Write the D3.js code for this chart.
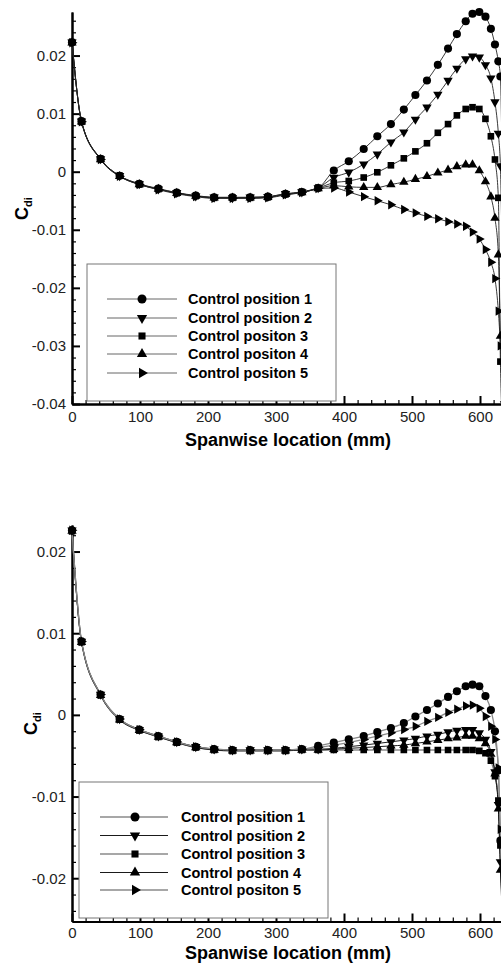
<!DOCTYPE html>
<html>
<head>
<meta charset="utf-8">
<script src="https://cdn.jsdelivr.net/npm/d3@7"></script>
<style>
  html, body { margin: 0; padding: 0; background: #fff; }
  svg { display: block; font-family: "Liberation Sans", Arial, Helvetica, sans-serif; }
</style>
</head>
<body>
<svg id="chart" width="501" height="967"></svg>
<script>
// Spanwise stations (mm), shared by both panels
const span = [0, 14, 42, 70, 99, 127, 154, 182, 209, 236, 262, 288, 314, 338, 362,
  385, 407, 429, 449, 469, 488, 505, 522, 538, 553, 566, 579, 589, 599, 608, 616,
  622, 627, 630, 636, 640];

// Upper panel: induced drag coefficient per control position
const topPos1 = [0.0223, 0.0087, 0.0022, -0.0007, -0.0021, -0.0029, -0.0036, -0.0041, -0.0044, -0.0044, -0.0044, -0.0043, -0.0038, -0.0035, -0.0028,
  0.0002, 0.0018, 0.0039, 0.0061, 0.0082, 0.0107, 0.0132, 0.0157, 0.0184, 0.0212, 0.0237, 0.0259, 0.0272, 0.0275, 0.0267, 0.0246,
  0.0219, 0.0190, 0.0164, -0.0300, -0.0500];
const topPos2 = [0.0223, 0.0087, 0.0022, -0.0007, -0.0021, -0.0030, -0.0036, -0.0042, -0.0044, -0.0045, -0.0044, -0.0043, -0.0038, -0.0035, -0.0028,
  -0.0010, -0.0001, 0.0013, 0.0030, 0.0051, 0.0068, 0.0090, 0.0111, 0.0133, 0.0157, 0.0178, 0.0194, 0.0199, 0.0197, 0.0184, 0.0161,
  0.0120, 0.0066, 0.0010, -0.0400, -0.0600];
const topPos3 = [0.0223, 0.0086, 0.0022, -0.0007, -0.0022, -0.0030, -0.0037, -0.0042, -0.0045, -0.0045, -0.0045, -0.0044, -0.0039, -0.0035, -0.0028,
  -0.0019, -0.0016, -0.0010, -0.0001, 0.0011, 0.0023, 0.0035, 0.0049, 0.0067, 0.0082, 0.0097, 0.0108, 0.0111, 0.0108, 0.0091, 0.0061,
  0.0021, -0.0045, -0.0327, -0.0500, -0.0600];
const topPos4 = [0.0222, 0.0086, 0.0021, -0.0008, -0.0022, -0.0030, -0.0037, -0.0042, -0.0045, -0.0045, -0.0045, -0.0044, -0.0039, -0.0036, -0.0029,
  -0.0024, -0.0026, -0.0027, -0.0027, -0.0022, -0.0018, -0.0013, -0.0008, -0.0002, 0.0003, 0.0009, 0.0012, 0.0012, 0.0002, -0.0017, -0.0043,
  -0.0080, -0.0143, -0.0283, -0.0500, -0.0600];
const topPos5 = [0.0222, 0.0086, 0.0021, -0.0008, -0.0022, -0.0031, -0.0038, -0.0043, -0.0046, -0.0046, -0.0046, -0.0045, -0.0040, -0.0036, -0.0029,
  -0.0028, -0.0035, -0.0043, -0.0050, -0.0057, -0.0065, -0.0071, -0.0077, -0.0081, -0.0086, -0.0090, -0.0094, -0.0104, -0.0116, -0.0134, -0.0156,
  -0.0184, -0.0240, -0.0300, -0.0500, -0.0600];

// Lower panel
const botPos1 = [0.0226, 0.0090, 0.0025, -0.0005, -0.0018, -0.0026, -0.0033, -0.0039, -0.0042, -0.0043, -0.0043, -0.0043, -0.0043, -0.0042, -0.0038,
  -0.0034, -0.0030, -0.0026, -0.0021, -0.0016, -0.0010, -0.0002, 0.0006, 0.0014, 0.0022, 0.0029, 0.0035, 0.0037, 0.0035, 0.0023, 0.0006,
  -0.0020, -0.0068, -0.0154, -0.0300, -0.0400];
const botPos2 = [0.0226, 0.0090, 0.0025, -0.0005, -0.0018, -0.0026, -0.0033, -0.0039, -0.0042, -0.0043, -0.0043, -0.0043, -0.0043, -0.0042, -0.0042,
  -0.0041, -0.0039, -0.0037, -0.0035, -0.0033, -0.0031, -0.0029, -0.0026, -0.0024, -0.0021, -0.0019, -0.0018, -0.0018, -0.0022, -0.0030, -0.0045,
  -0.0070, -0.0110, -0.0180, -0.0300, -0.0400];
const botPos3 = [0.0225, 0.0089, 0.0024, -0.0006, -0.0019, -0.0027, -0.0034, -0.0040, -0.0043, -0.0044, -0.0044, -0.0044, -0.0044, -0.0043, -0.0043,
  -0.0043, -0.0043, -0.0043, -0.0043, -0.0043, -0.0043, -0.0043, -0.0043, -0.0043, -0.0043, -0.0043, -0.0043, -0.0043, -0.0044, -0.0047, -0.0056,
  -0.0075, -0.0105, -0.0160, -0.0300, -0.0400];
const botPos4 = [0.0225, 0.0089, 0.0024, -0.0006, -0.0019, -0.0027, -0.0034, -0.0040, -0.0043, -0.0044, -0.0044, -0.0044, -0.0044, -0.0043, -0.0043,
  -0.0042, -0.0041, -0.0040, -0.0039, -0.0038, -0.0037, -0.0035, -0.0033, -0.0031, -0.0029, -0.0028, -0.0026, -0.0026, -0.0029, -0.0035, -0.0048,
  -0.0072, -0.0115, -0.0190, -0.0300, -0.0400];
const botPos5 = [0.0226, 0.0090, 0.0025, -0.0005, -0.0018, -0.0026, -0.0033, -0.0039, -0.0042, -0.0043, -0.0043, -0.0043, -0.0043, -0.0042, -0.0040,
  -0.0037, -0.0034, -0.0030, -0.0026, -0.0022, -0.0018, -0.0014, -0.0008, -0.0003, 0.0003, 0.0007, 0.0011, 0.0012, 0.0008, -0.0002, -0.0014,
  -0.0030, -0.0065, -0.0140, -0.0300, -0.0400];

// Legend labels
const topLabels = ["Control position 1", "Control position 2", "Control positon 3", "Control positon 4", "Control positon 5"];
const botLabels = ["Control position 1", "Control position 2", "Control position 3", "Control postion 4", "Control positon 5"];

// Tick labels
const xTicks = [0, 100, 200, 300, 400, 500, 600];
const yTicksTop = [-0.04, -0.03, -0.02, -0.01, 0, 0.01, 0.02];
const yTicksBot = [-0.02, -0.01, 0, 0.01, 0.02];

const markers = ["circle", "down", "square", "up", "right"];

const svg = d3.select("#chart");
const defs = svg.append("defs");

function symbolPath(kind, size) {
  const type = kind === "circle" ? d3.symbolCircle : kind === "square" ? d3.symbolSquare : d3.symbolTriangle;
  return d3.symbol().type(type).size(size)();
}
function symbolRotation(kind) {
  return kind === "down" ? 180 : kind === "right" ? 90 : 0;
}
const symbolSize = { circle: 52, square: 44, down: 38, up: 38, right: 38 };
const legendSize = { circle: 64, square: 50, down: 46, up: 46, right: 46 };

function drawPanel(cfg) {
  const g = svg.append("g");
  const x = d3.scaleLinear().domain([0, 650]).range([72, 72 + 650 * 0.68]);
  const y = d3.scaleLinear().domain(cfg.yDomain).range([cfg.bottom, cfg.top]);

  // keep the curves inside the frame vertically
  defs.append("clipPath").attr("id", cfg.id).append("rect")
    .attr("x", 50).attr("y", cfg.top - 14).attr("width", 500).attr("height", cfg.bottom - cfg.top + 14);

  // minor ticks
  const xMinor = d3.range(0, 660, 20).filter(v => v % 100 !== 0);
  const yMinor = d3.range(Math.round(cfg.yDomain[0] * 500), Math.round(cfg.yDomain[1] * 500) + 1)
    .map(k => k / 500).filter(v => Math.abs(Math.round(v * 100) - v * 100) > 1e-6 && v >= cfg.yDomain[0] && v <= cfg.yDomain[1]);

  const xAxisMinor = g.append("g").attr("transform", `translate(0,${cfg.bottom})`)
    .call(d3.axisBottom(x).tickValues(xMinor).tickSizeInner(-4).tickSizeOuter(0).tickFormat(""));
  const xAxis = g.append("g").attr("transform", `translate(0,${cfg.bottom})`)
    .call(d3.axisBottom(x).tickValues(xTicks).tickSizeInner(-8).tickSizeOuter(0).tickPadding(cfg.xPad));
  const yAxisMinor = g.append("g").attr("transform", `translate(72,0)`)
    .call(d3.axisLeft(y).tickValues(yMinor).tickSizeInner(-4).tickSizeOuter(0).tickFormat(""));
  const yAxis = g.append("g").attr("transform", `translate(72,0)`)
    .call(d3.axisLeft(y).tickValues(cfg.yTicks).tickSizeInner(-8).tickSizeOuter(0).tickPadding(6)
      .tickFormat(v => v === 0 ? "0" : String(+v.toFixed(2))));

  [xAxisMinor, xAxis, yAxisMinor, yAxis].forEach(a => {
    a.select(".domain").attr("stroke", "#000").attr("stroke-width", 2);
    a.selectAll(".tick line").attr("stroke", "#000").attr("stroke-width", 1.2);
    a.selectAll(".tick text").attr("font-size", 15).attr("fill", "#222")
      .attr("font-family", "'Liberation Sans', Arial, sans-serif");
  });
  xAxis.selectAll(".tick line").attr("stroke-width", 2);
  yAxis.selectAll(".tick line").attr("stroke-width", 2);

  // axis titles
  g.append("text").attr("x", 288).attr("y", cfg.titleY).attr("text-anchor", "middle")
    .attr("font-size", 18).attr("font-weight", "bold").attr("fill", "#000")
    .text("Spanwise location (mm)");
  const yt = g.append("text").attr("transform", `translate(${cfg.yTitleX},${cfg.yTitleY}) rotate(-90)`)
    .attr("font-weight", "bold").attr("fill", "#000");
  yt.append("tspan").attr("font-size", 18).text("C");
  yt.append("tspan").attr("font-size", 11).attr("dy", 4).text("di");

  // legend box
  const L = cfg.legend;
  g.append("rect").attr("x", L.x0).attr("y", L.y0).attr("width", L.x1 - L.x0).attr("height", L.y1 - L.y0)
    .attr("fill", "#fff").attr("stroke", "#777").attr("stroke-width", 1);

  // series
  const plot = g.append("g").attr("clip-path", `url(#${cfg.id})`);
  const line = d3.line().x(d => x(d[0])).y(d => y(d[1])).curve(d3.curveMonotoneX);
  cfg.series.forEach((vals, i) => {
    const pts = span.map((s, k) => [s, vals[k]]);
    plot.append("path").datum(pts).attr("d", line).attr("fill", "none")
      .attr("stroke", cfg.lineColor[i]).attr("stroke-width", cfg.lineWidth[i]);
  });
  cfg.series.forEach((vals, i) => {
    const kind = markers[i];
    const pts = span.map((s, k) => [s, vals[k]]);
    plot.append("g").selectAll("path").data(pts).join("path")
      .attr("d", symbolPath(kind, symbolSize[kind]))
      .attr("transform", d => `translate(${x(d[0])},${y(d[1])}) rotate(${symbolRotation(kind)})`)
      .attr("fill", "#000");
  });

  // legend entries
  cfg.labels.forEach((lab, i) => {
    const ry = L.rows[i];
    g.append("line").attr("x1", L.lx0).attr("x2", L.lx1).attr("y1", ry).attr("y2", ry)
      .attr("stroke", cfg.legendLine[i]).attr("stroke-width", cfg.lineWidth[i]);
    const kind = markers[i];
    g.append("path").attr("d", symbolPath(kind, legendSize[kind]))
      .attr("transform", `translate(${L.mx},${ry}) rotate(${symbolRotation(kind)})`).attr("fill", "#000");
    g.append("text").attr("x", L.tx).attr("y", ry).attr("dy", "0.35em")
      .attr("font-size", 14.5).attr("font-weight", "bold").attr("fill", "#000").text(lab);
  });
}

drawPanel({
  id: "clipTop", top: 12, bottom: 404, yDomain: [-0.04, 0.0275], yTicks: yTicksTop, xPad: 7.5,
  titleY: 446, yTitleX: 28, yTitleY: 220,
  series: [topPos1, topPos2, topPos3, topPos4, topPos5], labels: topLabels,
  lineColor: ["#222", "#222", "#222", "#222", "#222"], lineWidth: [0.9, 0.9, 0.9, 0.9, 0.9],
  legendLine: ["#555", "#555", "#555", "#555", "#555"],
  legend: { x0: 87, y0: 264, x1: 336, y1: 401, lx0: 107, lx1: 177, mx: 142, tx: 188,
    rows: [299, 318, 336, 354, 373] }
});

drawPanel({
  id: "clipBot", top: 525, bottom: 921.5, yDomain: [-0.0253, 0.02325], yTicks: yTicksBot, xPad: 5.5,
  titleY: 959, yTitleX: 37, yTitleY: 735,
  series: [botPos1, botPos2, botPos3, botPos4, botPos5], labels: botLabels,
  lineColor: ["#8a8a8a", "#000", "#8a8a8a", "#000", "#8a8a8a"], lineWidth: [1.3, 0.9, 1.3, 0.9, 1.3],
  legendLine: ["#8a8a8a", "#000", "#8a8a8a", "#000", "#8a8a8a"],
  legend: { x0: 79, y0: 782, x1: 328, y1: 918, lx0: 100, lx1: 168, mx: 135, tx: 181,
    rows: [817, 835.5, 854, 872.5, 890] }
});
</script>
</body>
</html>
